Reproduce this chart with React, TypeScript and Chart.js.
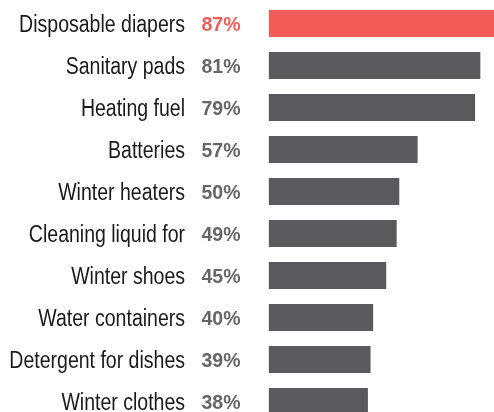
import React, { useEffect, useRef } from "react";
import { Chart, registerables } from "chart.js";

Chart.register(...registerables);

const categories = [
  "Disposable diapers",
  "Sanitary pads",
  "Heating fuel",
  "Batteries",
  "Winter heaters",
  "Cleaning liquid for",
  "Winter shoes",
  "Water containers",
  "Detergent for dishes",
  "Winter clothes",
];
const values = [87, 81, 79, 57, 50, 49, 45, 40, 39, 38];
const percentLabels = ["87%", "81%", "79%", "57%", "50%", "49%", "45%", "40%", "39%", "38%"];
const highlightIndex = 0;

const RED = "#f25c58";
const BAR_GREY = "#5a5a5c";
const PCT_GREY = "#666666";
const LABEL_COLOR = "#1a1a1a";
const FONT = "'Liberation Sans', Arial, sans-serif";

const labelPlugin = {
  id: "rowLabels",
  afterDatasetsDraw(chart: any) {
    const { ctx } = chart;
    const yScale = chart.scales.y;
    ctx.save();
    ctx.textBaseline = "middle";
    ctx.textAlign = "right";
    // category names (condensed)
    categories.forEach((t, i) => {
      const y = yScale.getPixelForValue(i) + 2.3;
      ctx.save();
      ctx.translate(185, y);
      ctx.scale(0.83, 1);
      ctx.font = `23.5px ${FONT}`;
      ctx.fillStyle = LABEL_COLOR;
      ctx.fillText(t, 0, 0);
      ctx.restore();
    });
    // percentages
    ctx.font = `bold 19.5px ${FONT}`;
    percentLabels.forEach((t, i) => {
      ctx.fillStyle = i === highlightIndex ? RED : PCT_GREY;
      ctx.fillText(t, 240.5, yScale.getPixelForValue(i) + 2.5);
    });
    ctx.restore();
  },
};

export default function App() {
  const ref = useRef<HTMLCanvasElement | null>(null);
  useEffect(() => {
    if (!ref.current) return;
    const chart = new Chart(ref.current, {
      type: "bar",
      data: {
        labels: categories,
        datasets: [
          {
            data: values,
            backgroundColor: values.map((_, i) => (i === highlightIndex ? RED : BAR_GREY)),
            barPercentage: 0.64,
            categoryPercentage: 1,
            borderWidth: 0,
          },
        ],
      },
      options: {
        indexAxis: "y",
        animation: false,
        responsive: false,
        maintainAspectRatio: false,
        layout: { padding: { top: 2.5, bottom: 7.5, left: 268.6, right: 0 } },
        plugins: {
          legend: { display: false },
          tooltip: { enabled: false },
          title: { display: false },
        },
        scales: {
          x: { display: false, min: 0, max: 100 },
          y: { display: false, offset: true },
        },
      },
      plugins: [labelPlugin],
    });
    return () => chart.destroy();
  }, []);
  return (
    <div
      style={{
        position: "fixed",
        left: 0,
        top: 0,
        width: 494,
        height: 412,
        overflow: "hidden",
        background: "#ffffff",
      }}
    >
      <canvas ref={ref} width={530} height={430} style={{ display: "block" }} />
    </div>
  );
}
